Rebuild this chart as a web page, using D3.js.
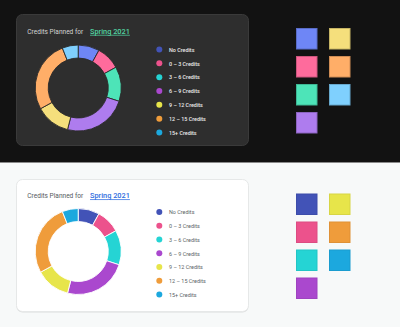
<!DOCTYPE html>
<html><head><meta charset="utf-8">
<script src="https://cdn.jsdelivr.net/npm/d3@7"></script>
<style>
html,body{margin:0;padding:0;background:#f7f9f9;}
svg{display:block;font-family:Roboto,"Noto Sans",sans-serif;}
</style></head>
<body>
<svg id="c" width="400" height="327"></svg>
<script>
const categories = ["No Credits","0 – 3 Credits","3 – 6 Credits","6 – 9 Credits","9 – 12 Credits","12 – 15 Credits","15+ Credits"];
const values = [8, 9, 13, 24, 13, 27, 6];
const darkColors = ["#6e86f6","#fe6b9c","#4de4b8","#ae7cee","#f5df7c","#ffae68","#7fd0fe"];
const lightColors = ["#4253b7","#ec528c","#25d4d4","#aa48ce","#e7e54a","#ef9c3b","#1ca8de"];
const titleText = "Credits Planned for";
const termText = "Spring 2021";

const svg = d3.select("#c");

svg.append("rect").attr("x",0).attr("y",0).attr("width",400).attr("height",162).attr("fill","#121212");
svg.append("rect").attr("x",0).attr("y",162).attr("width",400).attr("height",1).attr("fill","#8a8a8a");
svg.append("rect").attr("x",0).attr("y",163).attr("width",400).attr("height",164).attr("fill","#f7f9f9");

const pie = d3.pie().sort(null).value(d => d);
const arcs = pie(values);
const arc = d3.arc().innerRadius(30).outerRadius(43);

function fitFont(sel, target, base){
  sel.attr("font-size", base);
  const w = sel.node().getComputedTextLength();
  if (w > 0) sel.attr("font-size", base * target / w);
}

function panel(y0, dark){
  const g = svg.append("g").attr("transform",`translate(0,${y0})`);
  if(!dark){
    g.append("rect").attr("x",16.5).attr("y",1.5).attr("width",232).attr("height",132)
      .attr("rx",6).attr("fill","#dcdede");
  }
  g.append("rect").attr("x",16.5).attr("y",0.5).attr("width",232).attr("height",dark?131:132)
    .attr("rx",6)
    .attr("fill", dark ? "#2e2e2e" : "#ffffff")
    .attr("stroke", dark ? "#3a3a3a" : "#e6e8e8").attr("stroke-width",1);

  const t = g.append("text").attr("x",27.3).attr("y",dark?19.8:19.3)
    .attr("fill", dark ? "#d4d4d4" : "#555a60").text(titleText);
  fitFont(t, 56, 8);
  const t2 = g.append("text").attr("x",90).attr("y",dark?19.8:19.3)
    .attr("font-weight", 500)
    .attr("fill", dark ? "#52d4a2" : "#2f6ee0")
    .attr("text-decoration","underline").text(termText);
  fitFont(t2, 40, 8);

  const cols = dark ? darkColors : lightColors;
  const dg = g.append("g").attr("transform",`translate(78.2,${dark?74:72.5})`);
  dg.selectAll("path").data(arcs).join("path")
    .attr("d", arc)
    .attr("fill",(d,i)=>cols[i])
    .attr("stroke", dark ? "#2a2a2a" : "#ffffff")
    .attr("stroke-width",0.9);

  const ly = d3.scaleLinear().domain([0,6]).range([dark?35.5:33, dark?118.5:115.5]);
  const lg = g.append("g");
  lg.selectAll("circle").data(categories).join("circle")
    .attr("cx",159.3).attr("cy",(d,i)=>ly(i)).attr("r",3)
    .attr("fill",(d,i)=>lightColors[i]);
  const lt = lg.selectAll("text").data(categories).join("text")
    .attr("x",169).attr("y",(d,i)=>ly(i)+2.3)
    .attr("font-weight", dark?500:400)
    .attr("fill", dark ? "#ececec" : "#5a5f66")
    .text(d=>d);
  const probe = lt.filter((d,i)=>i===5);
  probe.attr("font-size",6);
  const pw = probe.node().getComputedTextLength();
  lt.attr("font-size", 6 * 37 / pw);

  categories.forEach((c,i)=>{
    const col = i<4?0:1, row = i<4?i:i-4;
    const xx = col===0 ? 296 : 329;
    const yy = (dark? 28 + row*28 : 193.5 + row*28) - y0;
    g.append("rect").attr("x",xx+0.5).attr("y",yy+0.5).attr("width",20.5).attr("height",20.5)
      .attr("fill",cols[i])
      .attr("stroke", dark ? d3.color(cols[i]).darker(0.6) : d3.color(cols[i]).darker(0.2))
      .attr("stroke-width",1);
  });
}
panel(14, true);
panel(179, false);
</script>
</body></html>
